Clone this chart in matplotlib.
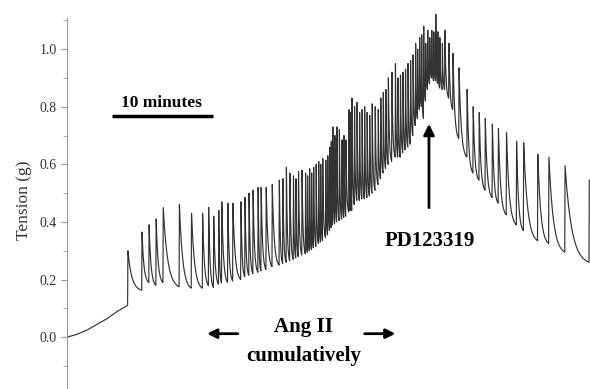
import numpy as np
import matplotlib
matplotlib.use('Agg')
import matplotlib.pyplot as plt

# time in minutes, tension in g
base_time = [0.0, 1.0, 2.0, 3.0, 4.0, 5.0, 6.0]
base_val = [0.0, 0.01, 0.025, 0.045, 0.065, 0.09, 0.11]

# main contractions: onset time, peak tension, tension just before onset
spike_time = [6.0, 7.4, 8.1, 8.8, 9.5, 11.1, 12.3, 13.4, 14.0, 14.5,
              15.0, 15.3, 15.9, 16.4, 17.2, 17.6, 18.0, 18.4, 18.9, 19.2,
              19.7, 20.3, 21.0, 21.7, 22.4, 22.9, 23.6, 24.0, 24.4, 24.9,
              25.3, 25.6, 26.0, 26.3, 26.7, 27.2, 27.6, 27.9, 28.2, 28.7,
              29.2, 29.7, 30.2, 30.8, 31.3, 31.8, 32.5, 33.0, 33.5, 34.0,
              34.5, 34.9, 35.3, 35.7, 36.1, 36.5, 36.9, 37.4, 38.2, 38.8,
              39.6, 40.2, 40.8, 41.4, 42.1, 42.7, 43.5, 44.5, 45.2, 46.6,
              47.7, 49.3, 51.7]
spike_peak = [0.30, 0.365, 0.39, 0.41, 0.45, 0.46, 0.43, 0.43, 0.45, 0.42,
              0.44, 0.47, 0.465, 0.465, 0.47, 0.485, 0.50, 0.51, 0.52, 0.52,
              0.52, 0.53, 0.545, 0.59, 0.56, 0.575, 0.57, 0.585, 0.59, 0.61,
              0.62, 0.615, 0.66, 0.73, 0.73, 0.685, 0.685, 0.79, 0.83, 0.815,
              0.79, 0.78, 0.81, 0.79, 0.85, 0.90, 0.95, 0.91, 0.93, 0.96,
              1.02, 1.04, 1.08, 1.065, 1.065, 1.12, 1.04, 1.065, 0.985, 0.935,
              0.86, 0.80, 0.78, 0.76, 0.74, 0.725, 0.71, 0.68, 0.675, 0.635,
              0.625, 0.595, 0.545]
spike_trough = [0.11, 0.163, 0.19, 0.18, 0.19, 0.175, 0.17, 0.17, 0.18, 0.173,
                0.184, 0.188, 0.19, 0.195, 0.20, 0.21, 0.215, 0.22, 0.225, 0.23,
                0.235, 0.245, 0.25, 0.26, 0.27, 0.28, 0.29, 0.30, 0.31, 0.325,
                0.335, 0.345, 0.37, 0.39, 0.40, 0.41, 0.42, 0.435, 0.44, 0.475,
                0.48, 0.485, 0.50, 0.53, 0.57, 0.60, 0.625, 0.625, 0.65, 0.67,
                0.735, 0.79, 0.76, 0.86, 0.90, 0.89, 0.865, 0.86, 0.79, 0.69,
                0.625, 0.57, 0.545, 0.51, 0.485, 0.465, 0.425, 0.39, 0.37, 0.335,
                0.325, 0.295, 0.26]

# smaller contractions in the dense part of the trace
extra_time = [21.35, 22.05, 22.65, 23.25, 23.8, 24.2, 24.65, 25.1, 25.8, 26.15,
              26.5, 26.95, 27.4, 28.05, 28.45, 28.95, 29.45, 29.95, 30.5, 31.05,
              31.55, 32.15, 32.75, 33.25, 33.75, 34.25, 34.7, 35.1, 35.5, 35.9,
              36.3, 36.7, 37.15, 37.8]
extra_peak = [0.55, 0.57, 0.55, 0.58, 0.56, 0.57, 0.60, 0.60, 0.63, 0.68,
              0.70, 0.72, 0.70, 0.78, 0.80, 0.78, 0.80, 0.77, 0.80, 0.83,
              0.86, 0.92, 0.90, 0.92, 0.95, 0.98, 1.00, 1.05, 1.02, 1.04,
              1.06, 1.06, 1.02, 1.02]
extra_trough = [0.255, 0.265, 0.275, 0.285, 0.295, 0.305, 0.315, 0.33, 0.355, 0.38,
                0.395, 0.405, 0.415, 0.44, 0.46, 0.475, 0.48, 0.49, 0.51, 0.55,
                0.585, 0.61, 0.625, 0.64, 0.66, 0.70, 0.76, 0.80, 0.82, 0.88,
                0.89, 0.88, 0.86, 0.83]


def build_trace():
    times = np.array(spike_time + extra_time)
    peaks = np.array(spike_peak + extra_peak)
    lows = np.array(spike_trough + extra_trough)
    order = np.argsort(times)
    times, peaks, lows = times[order], peaks[order], lows[order]

    t = list(base_time)
    y = list(base_val)
    n = len(times)
    for i in range(n):
        t0, pk = times[i], peaks[i]
        t.append(t0)
        y.append(lows[i])
        t.append(t0 + 0.03)
        y.append(pk)
        if i + 1 == n:
            break
        t1, low = times[i + 1], lows[i + 1]
        s = np.linspace(0, 1, 14)[1:-1]
        tau = 0.28
        f = (np.exp(-s / tau) - np.exp(-1 / tau)) / (1 - np.exp(-1 / tau))
        t.extend(t0 + 0.03 + s * (t1 - t0 - 0.03))
        y.extend(low + (pk - low) * f)
    return np.array(t), np.array(y)


plt.rcParams['font.family'] = ['Liberation Serif', 'DejaVu Serif']

fig = plt.figure(figsize=(5.9, 3.89), dpi=100)
ax = fig.add_axes([0.1136, 0.0, 0.8864, 0.970])

tt, yy = build_trace()
ax.plot(tt, yy, color='#333333', lw=0.85)

ax.set_xlim(0, 51.8)
ax.set_ylim(-0.18, 1.13)
for side in ['top', 'right', 'bottom']:
    ax.spines[side].set_visible(False)
ax.spines['left'].set_color('#999999')
ax.spines['left'].set_bounds(-0.18, 1.108)
ax.set_xticks([])
ax.set_yticks([0.0, 0.2, 0.4, 0.6, 0.8, 1.0])
ax.set_yticklabels(['0.0', '0.2', '0.4', '0.6', '0.8', '1.0'])
ax.set_yticks(np.arange(-0.1, 1.11, 0.2), minor=True)
ax.tick_params(axis='y', which='major', length=4, color='#999999',
               labelsize=10, labelcolor='#333333')
ax.tick_params(axis='y', which='minor', length=3, color='#999999')
ax.set_ylabel('Tension (g)', fontsize=12.5, color='#333333', labelpad=5)

# scale bar
ax.plot([4.46, 14.46], [0.767, 0.767], color='black', lw=2.5,
        solid_capstyle='butt')
ax.text(9.4, 0.785, '10 minutes', ha='center', va='bottom', fontsize=12.5,
        fontweight='bold')

# Ang II annotation
ax.text(23.4, 0.035, 'Ang II', ha='center', va='center', fontsize=15,
        fontweight='bold')
ax.text(23.4, -0.065, 'cumulatively', ha='center', va='center', fontsize=15,
        fontweight='bold')
ax.annotate('', xy=(13.6, 0.012), xytext=(17.2, 0.012),
            arrowprops=dict(arrowstyle='-|>', color='black', lw=2,
                            mutation_scale=14))
ax.annotate('', xy=(32.8, 0.012), xytext=(29.2, 0.012),
            arrowprops=dict(arrowstyle='-|>', color='black', lw=2,
                            mutation_scale=14))

# PD123319 annotation
ax.text(35.9, 0.333, 'PD123319', ha='center', va='center', fontsize=15,
        fontweight='bold')
ax.annotate('', xy=(35.85, 0.75), xytext=(35.85, 0.44),
            arrowprops=dict(arrowstyle='-|>', color='black', lw=2,
                            mutation_scale=16))

fig.savefig('out.png', dpi=100)
